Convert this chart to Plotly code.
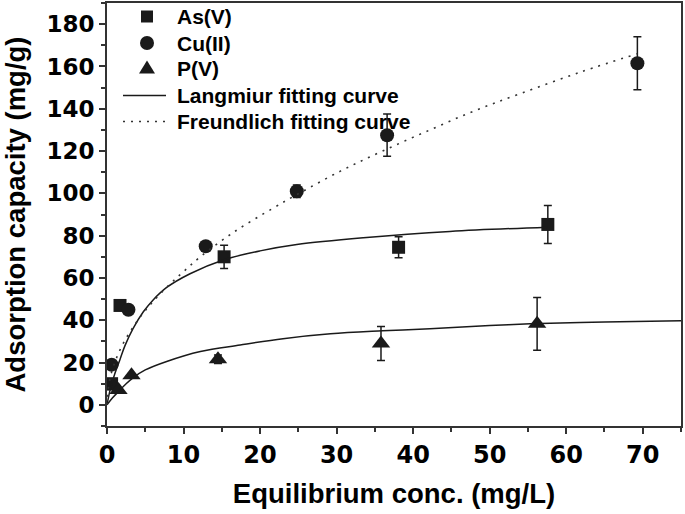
import plotly.graph_objects as go

# ---- measured data ----
as_x = [0.6, 1.7, 15.3, 38.1, 57.6]
as_y = [10, 47, 70, 74.5, 85.3]
as_err = [0, 0, 5.5, 5, 9]

cu_x = [0.6, 2.8, 12.9, 24.8, 36.6, 69.3]
cu_y = [19, 45, 75, 101, 127.5, 161.5]
cu_err = [0, 0, 0, 3, 10, 12.5]

p_x = [0.8, 1.5, 3.2, 14.5, 35.8, 56.2]
p_y = [8.7, 7, 14, 21.6, 29, 38.3]
p_err = [0, 0, 0, 2, 8, 12.5]

# ---- fitted curves ----
lang_as_x = [0, 0.5, 1, 1.7, 2.35, 3.4, 4.75, 6, 7.8, 10.85, 15.2, 20, 24.8, 33.5, 44.8, 57.6]
lang_as_y = [0, 8.5, 14.5, 21.5, 28, 36, 44, 49.5, 55.5, 62, 68.5, 72.8, 75.8, 79, 82, 84]

lang_p_x = [0, 0.7, 1.5, 2.5, 3.4, 5, 7.8, 12.2, 17.4, 23, 29.2, 36, 42.2, 50, 55.3, 65, 75]
lang_p_y = [0, 3.2, 6.3, 10, 12.8, 16.5, 20.5, 25.2, 28.3, 31.3, 33.6, 35, 36, 37.5, 38.3, 39.2, 39.8]

freu_x = [0, 0.3, 0.7, 1.2, 1.9, 3, 4.5, 6, 8.2, 10, 12.2, 16.5, 21.7, 25, 30.5, 36, 42.2, 48, 53.9, 62, 69.3]
freu_y = [0, 11, 16.6, 21.8, 27.5, 34.5, 42.3, 48.8, 57, 63, 70, 81.5, 93, 99.8, 110.5, 120, 130, 139, 147, 157.5, 166]

legend_labels = ["As(V)", "Cu(II)", "P(V)", "Langmiur fitting curve", "Freundlich fitting curve"]

FONT = "Liberation Sans, Arial, sans-serif"
TICKFONT = "DejaVu Sans, sans-serif"
INK = "#1a1a1a"
DOTS = "2px,6px"

fig = go.Figure()

err_style = dict(type="data", color=INK, thickness=1.5, width=4)
fig.add_trace(go.Scatter(x=as_x, y=as_y, mode="markers", name=legend_labels[0], showlegend=False,
    marker=dict(symbol="square", size=13, color=INK),
    error_y=dict(array=as_err, **err_style)))
fig.add_trace(go.Scatter(x=cu_x, y=cu_y, mode="markers", name=legend_labels[1], showlegend=False,
    marker=dict(symbol="circle", size=14, color=INK),
    error_y=dict(array=cu_err, **err_style)))
fig.add_trace(go.Scatter(x=p_x, y=p_y, mode="markers", name=legend_labels[2], showlegend=False,
    marker=dict(symbol="triangle-up", size=16, color=INK),
    error_y=dict(array=p_err, **err_style)))

fig.add_trace(go.Scatter(x=lang_as_x, y=lang_as_y, mode="lines", name=legend_labels[3], showlegend=False,
    line=dict(color=INK, width=1.5, shape="spline")))
fig.add_trace(go.Scatter(x=lang_p_x, y=lang_p_y, mode="lines", showlegend=False,
    line=dict(color=INK, width=1.5, shape="spline")))
fig.add_trace(go.Scatter(x=freu_x, y=freu_y, mode="lines", name=legend_labels[4], showlegend=False,
    line=dict(color="#333333", width=1.6, dash=DOTS, shape="spline")))

axis_common = dict(
    showline=True, linecolor="#333333", linewidth=2, mirror=True,
    ticks="outside", ticklen=6, tickwidth=1.5, tickcolor="#333333",
    showgrid=False, zeroline=False, automargin=False,
    tickprefix="<b>", ticksuffix="</b>",
)

fig.update_xaxes(**axis_common, range=[0, 75], dtick=10, tick0=0,
    tickfont=dict(family=TICKFONT, size=24, color="black"),
    minor=dict(ticks="outside", ticklen=4, dtick=5, tickcolor="#333333", tickwidth=1.5),
    title=dict(text="<b>Equilibrium conc. (mg/L)</b>", font=dict(family=FONT, size=27.5, color="black"), standoff=16))
fig.update_yaxes(**axis_common, range=[-10, 190], dtick=20, tick0=0,
    tickfont=dict(family=TICKFONT, size=23, color="black"),
    minor=dict(ticks="outside", ticklen=4, dtick=10, tickcolor="#333333", tickwidth=1.5),
    title=dict(text="<b>Adsorption capacity (mg/g)</b>", font=dict(family=FONT, size=27.5, color="black"), standoff=14))

# ---- hand-built legend (paper coords, pixel-sized symbols) ----
L, T, W, H = 107, 3, 574, 423
def px(xp):
    return (xp - L) / W
def py(yp):
    return (T + H - yp) / H

rows_y = [16.5, 43, 68.5, 95.5, 121.5]
sym_x = 147
shapes = []
shapes.append(dict(type="rect", xref="paper", yref="paper", xsizemode="pixel", ysizemode="pixel",
    xanchor=px(sym_x), yanchor=py(rows_y[0]), x0=-6, x1=6, y0=-6, y1=6,
    fillcolor=INK, line=dict(width=0)))
shapes.append(dict(type="circle", xref="paper", yref="paper", xsizemode="pixel", ysizemode="pixel",
    xanchor=px(sym_x), yanchor=py(rows_y[1]), x0=-7, x1=7, y0=-7, y1=7,
    fillcolor=INK, line=dict(width=0)))
shapes.append(dict(type="path", xref="paper", yref="paper", xsizemode="pixel", ysizemode="pixel",
    xanchor=px(sym_x), yanchor=py(rows_y[2]), path="M -8 -5 L 8 -5 L 0 8 Z",
    fillcolor=INK, line=dict(width=0)))
shapes.append(dict(type="line", xref="paper", yref="paper",
    x0=px(123), x1=px(166), y0=py(rows_y[3]), y1=py(rows_y[3]), line=dict(color=INK, width=1.5)))
shapes.append(dict(type="line", xref="paper", yref="paper",
    x0=px(123), x1=px(166), y0=py(rows_y[4]), y1=py(rows_y[4]), line=dict(color="#333333", width=1.6, dash=DOTS)))

annotations = []
for lab, yy in zip(legend_labels, rows_y):
    annotations.append(dict(text="<b>%s</b>" % lab, xref="paper", yref="paper",
        x=px(175), y=py(yy), xanchor="left", yanchor="middle", showarrow=False,
        font=dict(family=FONT, size=21, color="black")))

fig.update_layout(
    width=685, height=514,
    margin=dict(l=L, r=685 - L - W, t=T, b=514 - T - H),
    paper_bgcolor="white", plot_bgcolor="white",
    font=dict(family=FONT, color="black"),
    showlegend=False, shapes=shapes, annotations=annotations,
)

fig.write_html("out.html", config={"displayModeBar": False},
               post_script="document.body.style.margin='0';document.body.style.overflow='hidden';")
